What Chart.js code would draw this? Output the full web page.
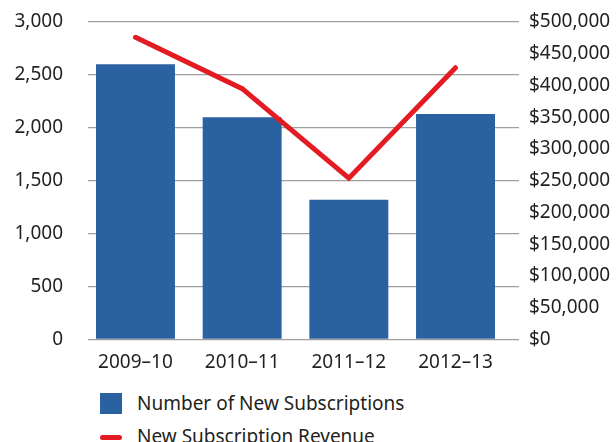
<!DOCTYPE html>
<html>
<head>
<meta charset="utf-8">
<script src="https://cdn.jsdelivr.net/npm/chart.js@4.4.1/dist/chart.umd.min.js"></script>
<style>
  body { margin: 0; background: #fff; overflow: hidden; }
  #wrap { position: relative; width: 616px; height: 442px; overflow: hidden; }
  #legend { position: absolute; left: 100px; top: 393px; font-family: "Noto Sans", sans-serif; font-size: 19px; color: #231f20; }
  .item { position: relative; height: 33px; }
  .swatch { position: absolute; left: 0; }
  .label { position: absolute; left: 37px; top: -1px; white-space: nowrap; line-height: 22px; }
</style>
</head>
<body>
<div id="wrap">
  <canvas id="myChart" width="616" height="380"></canvas>
  <div id="legend"></div>
</div>
<script>
var categories = ["2009\u201310", "2010\u201311", "2011\u201312", "2012\u201313"];
var subscriptions = [2600, 2100, 1320, 2130];
var revenue = [476000, 395000, 254000, 428000];
var seriesNames = ["Number of New Subscriptions", "New Subscription Revenue"];

var barColor = "#2a61a0";
var lineColor = "#e31b23";
var textColor = "#231f20";

function toPoints(values) {
    var pts = new Array();
    for (var i = 0; i < values.length; i++) {
        pts.push({x: i, y: values[i]});
    }
    return pts;
}

// tick padding also pads the top of a vertical axis, undo that
function fixPad(scale) {
    scale.paddingTop = 11;
    scale.paddingBottom = 11;
}

var tickFont = {family: "Noto Sans", size: 19};

var ctx = document.getElementById("myChart").getContext('2d');
var subsChart = new Chart(ctx, {
    type: 'bar',
    data: {
        datasets: [{
            type: 'line',
            label: seriesNames[1],
            data: toPoints(revenue),
            yAxisID: 'y1',
            borderColor: lineColor,
            backgroundColor: lineColor,
            borderWidth: 5,
            borderCapStyle: 'round',
            pointRadius: 0,
            tension: 0,
            order: 0
        }, {
            label: seriesNames[0],
            data: toPoints(subscriptions),
            yAxisID: 'y',
            backgroundColor: barColor,
            categoryPercentage: 1,
            barPercentage: 0.74,
            order: 1
        }]
    },
    options: {
        responsive: false,
        animation: false,
        layout: {padding: {top: 22, left: 0, right: 0, bottom: 0}},
        plugins: {legend: {display: false}, tooltip: {enabled: false}},
        scales: {
            x: {
                type: 'linear',
                offset: false,
                bounds: 'data',
                min: -0.445,
                max: 3.595,
                grid: {display: false, offset: false},
                border: {display: false},
                afterBuildTicks: function(scale) {
                    scale.ticks = categories.map(function(c, i) { return {value: i}; });
                },
                afterFit: function(scale) { scale.height = 40.5; },
                ticks: {
                    font: tickFont,
                    color: textColor,
                    padding: 4,
                    maxRotation: 0,
                    autoSkip: false,
                    callback: function(v) { return categories[v]; }
                }
            },
            y: {
                position: 'left',
                min: 0,
                max: 3000,
                grid: {color: '#9e9e9e', lineWidth: 1.3, drawTicks: false},
                border: {display: false},
                afterFit: function(scale) { scale.width = 88; fixPad(scale); },
                ticks: {
                    stepSize: 500,
                    font: tickFont,
                    color: textColor,
                    padding: 25,
                    callback: function(v) { return v.toLocaleString('en-US'); }
                }
            },
            y1: {
                position: 'right',
                min: 0,
                max: 500000,
                grid: {display: false, drawTicks: false},
                border: {display: false},
                afterFit: function(scale) { scale.width = 97; fixPad(scale); },
                ticks: {
                    stepSize: 50000,
                    font: tickFont,
                    color: textColor,
                    padding: 10,
                    callback: function(v) { return '$' + v.toLocaleString('en-US'); }
                }
            }
        }
    }
});

// legend in plain html, two rows stacked like the original
function buildLegend(chart) {
    var box = document.getElementById('legend');
    var sets = chart.data.datasets.slice().sort(function(a, b) { return b.order - a.order; });
    for (var ds of sets) {
        var item = document.createElement('div');
        item.className = 'item';
        var sw = document.createElement('div');
        sw.className = 'swatch';
        if (ds.type === 'line') {
            sw.style.cssText = 'top:9px;width:22px;height:5px;border-radius:3px;background:' + ds.borderColor;
        } else {
            sw.style.cssText = 'top:0;width:22px;height:21px;background:' + ds.backgroundColor;
        }
        var lb = document.createElement('div');
        lb.className = 'label';
        lb.textContent = ds.label;
        item.appendChild(sw);
        item.appendChild(lb);
        box.appendChild(item);
    }
}
buildLegend(subsChart);
</script>
</body>
</html>
